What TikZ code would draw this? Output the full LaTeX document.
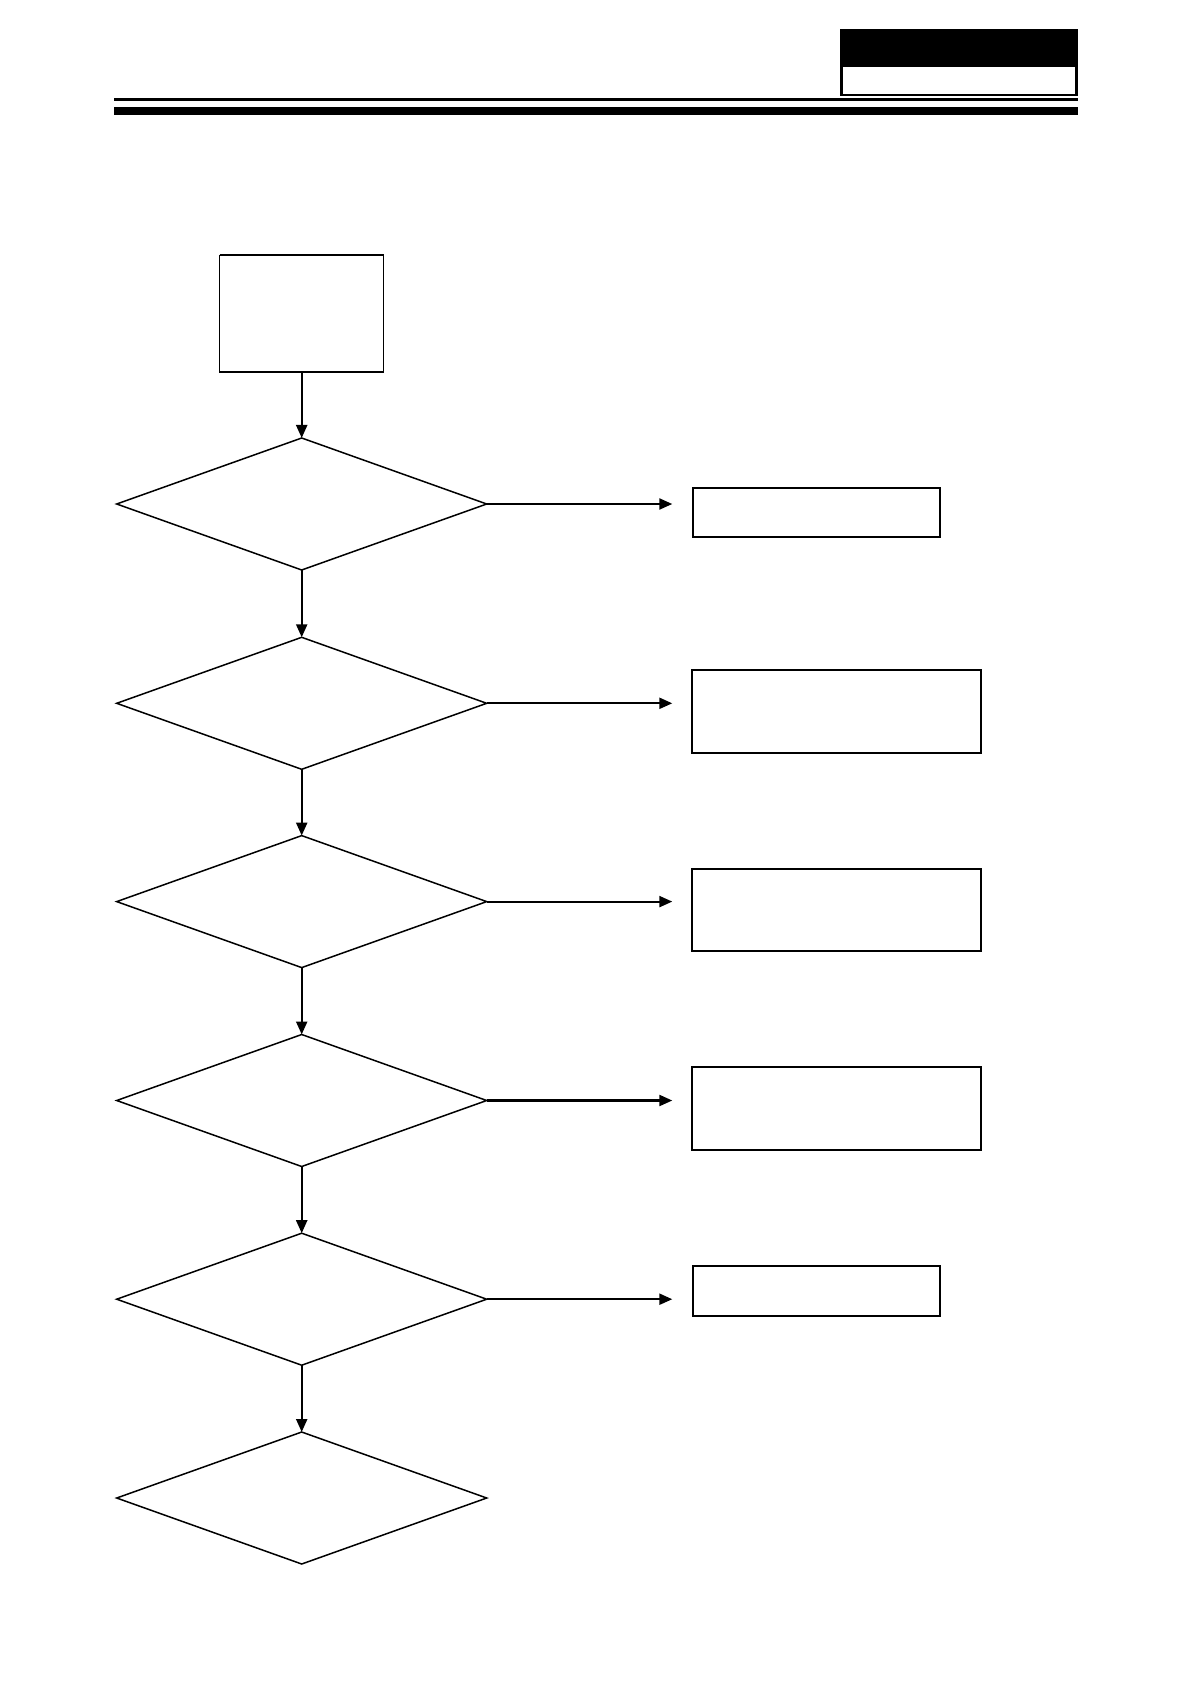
\documentclass[tikz,border=0pt]{standalone}
\usetikzlibrary{shapes.geometric,arrows.meta}
\tikzset{
  decision/.style={diamond, draw, line width=0.75pt, inner sep=0pt, outer sep=0pt, minimum width=185pt, minimum height=66pt},
  startbox/.style={rectangle, draw, line width=0.7pt, inner sep=0pt, outer sep=0pt, minimum width=82pt, minimum height=58.3pt},
  smallbox/.style={rectangle, draw, line width=1pt, inner sep=0pt, outer sep=0pt, minimum width=123.5pt, minimum height=24.8pt},
  bigbox/.style={rectangle, draw, line width=1pt, inner sep=0pt, outer sep=0pt, minimum width=144.3pt, minimum height=41.3pt},
  flow/.style={line width=1.1pt, -{Triangle[length=6.5pt,width=5.5pt]}}
}
\begin{document}
\begin{tikzpicture}[x=0.5pt,y=-0.5pt]
\useasboundingbox (0,0) rectangle (1190,1684);
% header
\fill[black] (840,29.3) rectangle (1078,96);
\fill[white] (843,66.7) rectangle (1075,94);
\fill[black] (114,98.3) rectangle (1078,101);
\fill[black] (114,107) rectangle (1078,115);
% start box
\node[startbox] (start) at (301.7,313.7) {};
\draw[line width=1pt] (start.north west) -- (start.north east);
% decisions
\node[decision] (d1) at (301.7,504) {};
\node[decision] (d2) at (301.7,703.3) {};
\node[decision] (d3) at (301.7,901.6) {};
\node[decision] (d4) at (301.7,1100.5) {};
\node[decision] (d5) at (301.7,1299.2) {};
\node[decision] (d6) at (301.7,1498) {};
% side boxes
\node[smallbox] (b1) at (816.3,512.5) {};
\node[bigbox] (b2) at (836.7,711.2) {};
\node[bigbox] (b3) at (836.7,909.9) {};
\node[bigbox] (b4) at (836.7,1108.3) {};
\node[smallbox] (b5) at (816.3,1290.8) {};
% arrow end points
\coordinate (e1) at (672.3,504);
\coordinate (e2) at (672.3,703.3);
\coordinate (e3) at (672.3,901.6);
\coordinate (e4) at (672.3,1100.5);
\coordinate (e5) at (672.3,1299.2);
% vertical arrows
\draw[flow] (start.south) -- (d1.north);
\draw[flow] (d1.south) -- (d2.north);
\draw[flow] (d2.south) -- (d3.north);
\draw[flow] (d3.south) -- (d4.north);
\draw[flow] (d4.south) -- (d5.north);
\draw[flow] (d5.south) -- (d6.north);
% horizontal arrows
\draw[flow] (d1.east) -- (e1);
\draw[flow] (d2.east) -- (e2);
\draw[flow] (d3.east) -- (e3);
\draw[flow] (d4.east) -- (e4);
\draw[flow] (d5.east) -- (e5);
\end{tikzpicture}
\end{document}
